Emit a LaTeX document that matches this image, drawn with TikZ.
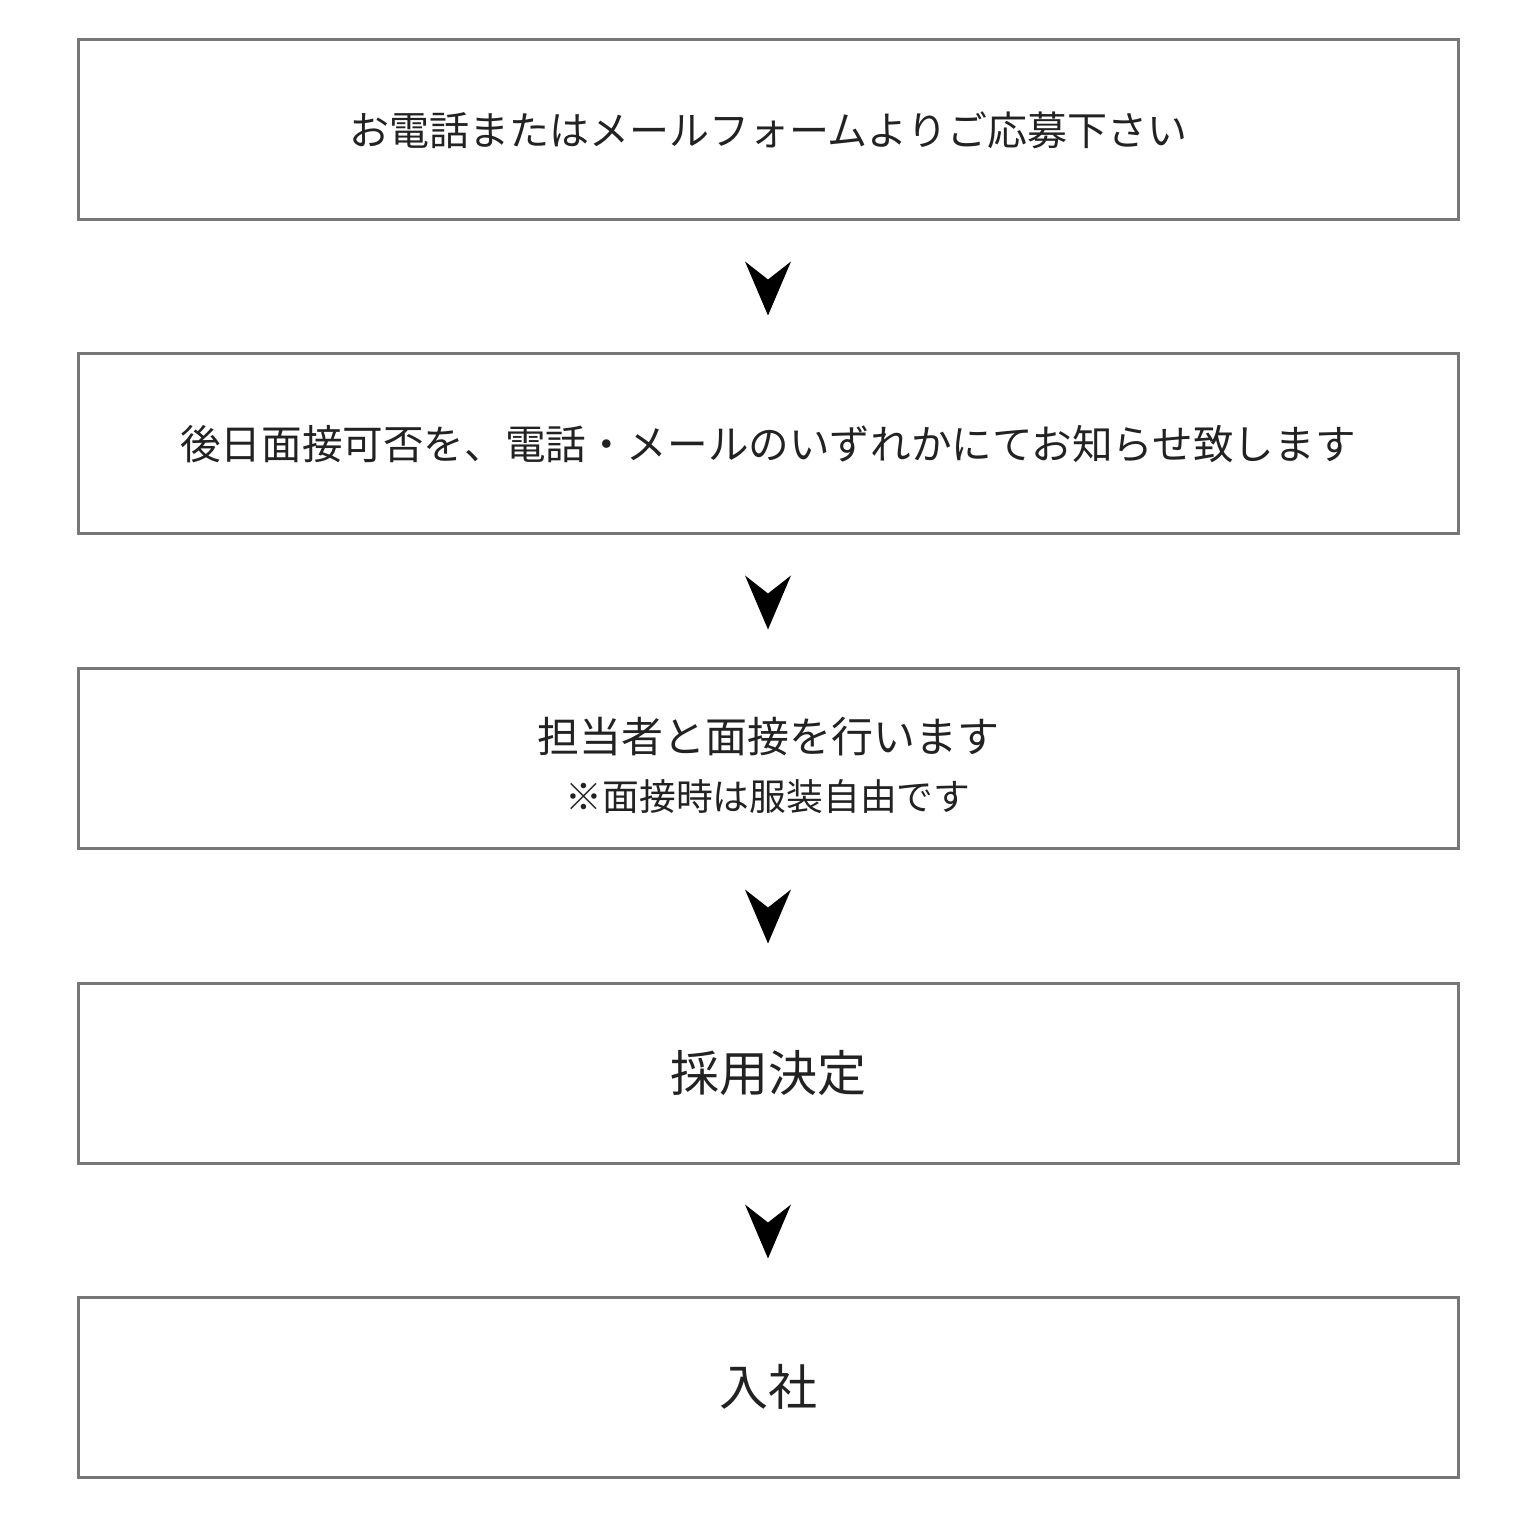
\documentclass[tikz,border=0pt]{standalone}
\usepackage{fontspec}
\newfontfamily\jp{Noto Sans CJK JP}
\definecolor{boxgray}{HTML}{777777}
\definecolor{txt}{HTML}{222222}
\tikzset{
  stepbox/.style={draw=boxgray, line width=1.5pt, fill=white, minimum width=690pt, minimum height=90pt, inner sep=0pt},
  lbl/.style={text=txt, font=\jp\fontsize{20pt}{24pt}\selectfont, inner sep=0pt},
  lblwide/.style={text=txt, font=\jp\fontsize{20.3pt}{24pt}\selectfont, inner sep=0pt},
  midlbl/.style={text=txt, font=\jp\fontsize{21pt}{25pt}\selectfont, inner sep=0pt},
  biglbl/.style={text=txt, font=\jp\fontsize{24.5pt}{28pt}\selectfont, inner sep=0pt},
  sublbl/.style={text=txt, font=\jp\fontsize{18.4pt}{22pt}\selectfont, inner sep=0pt},
  arrowhead/.style={fill=black, draw=none}
}
\begin{document}
\begin{tikzpicture}[x=0.5pt,y=-0.5pt]
\useasboundingbox[fill=white] (0,0) rectangle (1536,1518);
\node[stepbox] (b1) at (768,130) {};
\node[stepbox] (b2) at (768,444) {};
\node[stepbox] (b3) at (768,758) {};
\node[stepbox] (b4) at (768,1073) {};
\node[stepbox] (b5) at (768,1387) {};
\node[lbl] (t1) at (b1.center) {お電話またはメールフォームよりご応募下さい};
\node[lblwide] (t2) at (b2.center) {後日面接可否を、電話・メールのいずれかにてお知らせ致します};
\node[midlbl] (t3) at (768,737) {担当者と面接を行います};
\node[sublbl] (t3b) at (768,797) {※面接時は服装自由です};
\node[biglbl] (t4) at (b4.center) {採用決定};
\node[biglbl] (t5) at (b5.center) {入社};
\foreach \i in {1,2,3,4}{
  \path (b\i.south) ++(0,40) coordinate (a\i);
  \fill[arrowhead] (a\i) ++(-23,0) -- ++(23,18) -- ++(23,-18) -- ++(-23,54) -- cycle;
}
\end{tikzpicture}
\end{document}
